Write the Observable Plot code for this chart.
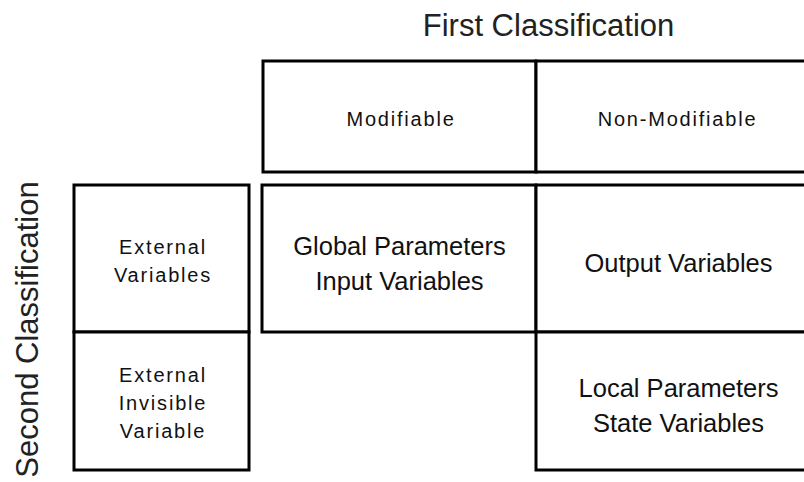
<!DOCTYPE html>
<html>
<head>
<meta charset="utf-8">
<script src="https://cdn.jsdelivr.net/npm/d3@7"></script>
<script src="https://cdn.jsdelivr.net/npm/@observablehq/plot@0.6"></script>
<style>
  html, body { margin: 0; padding: 0; background: #fff; }
  #chart svg { display: block; }
</style>
</head>
<body>
<div id="chart"></div>
<script>
// ---- data ----
const firstTitle = "First Classification";
const secondTitle = "Second Classification";
const firstCategories = ["Modifiable", "Non-Modifiable"];
const secondCategories = ["External Variables", "External Invisible Variable"];
const secondLabels = ["External\nVariables", "External\nInvisible\nVariable"];
const cellLabels = ["Global Parameters\nInput Variables", "Output Variables", "Local Parameters\nState Variables"];
const cellFirst = ["Modifiable", "Non-Modifiable", "Non-Modifiable"];
const cellSecond = ["External Variables", "External Variables", "External Invisible Variable"];

// ---- layout (pixel grid) ----
const colSpan = {
  rowHeader: [74, 249],
  "Modifiable": [263, 536],
  "Non-Modifiable": [536, 816]
};
const rowSpan = {
  colHeader: [61, 172],
  "External Variables": [185, 332],
  "External Invisible Variable": [332, 470]
};
const bodyColSpan = { "Modifiable": [262, 536], "Non-Modifiable": [536, 816] };

const headerCells = firstCategories.map(c => ({
  label: c, x1: colSpan[c][0], x2: colSpan[c][1], y1: rowSpan.colHeader[0], y2: rowSpan.colHeader[1]
}));
const rowHeaderCells = secondCategories.map((c, i) => ({
  label: secondLabels[i], x1: colSpan.rowHeader[0], x2: colSpan.rowHeader[1], y1: rowSpan[c][0], y2: rowSpan[c][1]
}));
const bodyCells = cellLabels.map((label, i) => ({
  label, x1: bodyColSpan[cellFirst[i]][0], x2: bodyColSpan[cellFirst[i]][1],
  y1: rowSpan[cellSecond[i]][0], y2: rowSpan[cellSecond[i]][1]
}));
const smallCells = headerCells.concat(rowHeaderCells);

const font = "'Liberation Sans', Arial, Helvetica, sans-serif";
const mid = (a, b) => (a + b) / 2;

const chart = Plot.plot({
  width: 804,
  height: 482,
  margin: 0,
  x: { type: "linear", domain: [0, 804], range: [0, 804], axis: null },
  y: { type: "linear", domain: [0, 482], range: [0, 482], axis: null },
  style: { background: "#fff", fontFamily: font },
  marks: [
    Plot.rect(smallCells.concat(bodyCells), {
      x1: "x1", x2: "x2", y1: "y1", y2: "y2",
      fill: "#fff", stroke: "#000", strokeWidth: 3
    }),
    Plot.text(smallCells, {
      x: d => mid(d.x1, d.x2) + 1, y: d => mid(d.y1, d.y2), text: "label",
      fontSize: 20, lineHeight: 1.4, fill: "#111", fontFamily: font
    }),
    Plot.text(bodyCells, {
      x: d => mid(d.x1, d.x2) + (d.x1 > 500 ? 2 : 0), y: d => mid(d.y1, d.y2), dy: 2, text: "label",
      fontSize: 25.5, lineHeight: 1.38, fill: "#111", fontFamily: font
    }),
    Plot.text([firstTitle], {
      x: () => 548, y: () => 26, text: d => d,
      fontSize: 31, fill: "#222", fontFamily: font
    }),
    Plot.text([secondTitle], {
      x: () => 28, y: () => 329, text: d => d, rotate: -90,
      fontSize: 31, fill: "#222", fontFamily: font
    })
  ]
});

// letter spacing on the small category labels (second mark's texts)
const textGroups = chart.querySelectorAll(":scope > g[aria-label='text']");
if (textGroups[0]) {
  textGroups[0].querySelectorAll("text").forEach(t => {
    t.setAttribute("letter-spacing", "1.8");
  });
}

document.getElementById("chart").appendChild(chart);
</script>
</body>
</html>
